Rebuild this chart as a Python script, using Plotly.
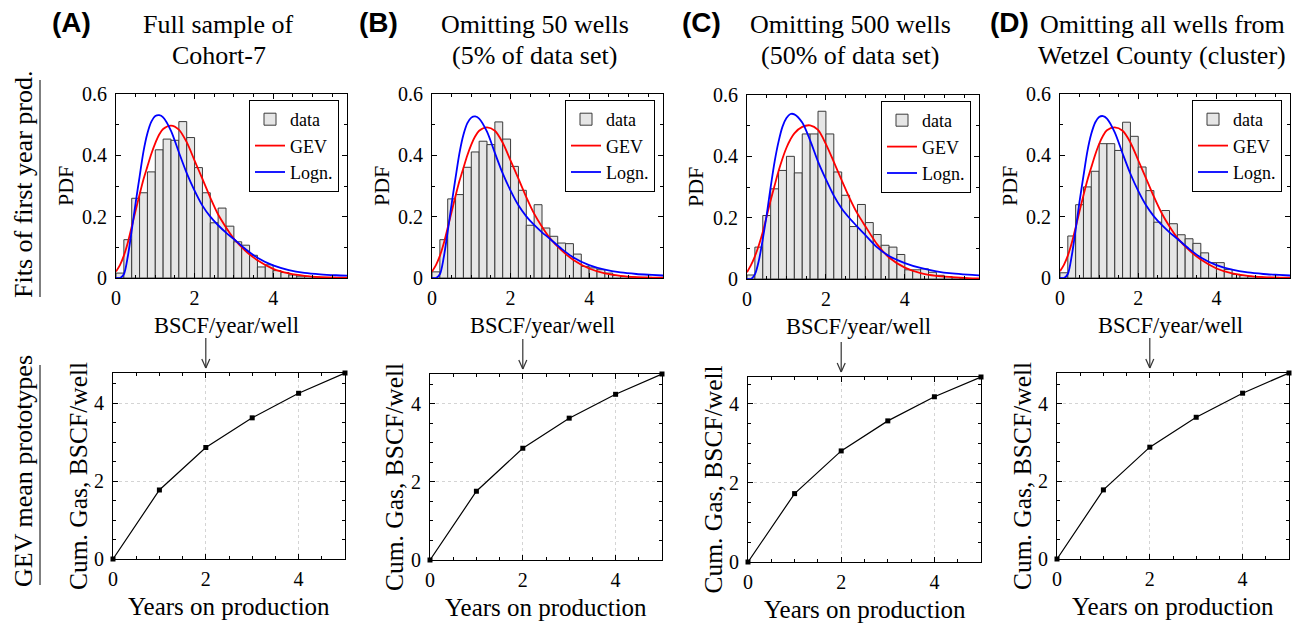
import plotly.graph_objects as go

W, H = 1306, 623
OFF = 8  # page body margin of the browser
FONT = "Liberation Serif"

# ---------------- data ----------------
hist_x = [0.1, 0.3, 0.5, 0.7, 0.9, 1.1, 1.3, 1.5, 1.7, 1.9, 2.1, 2.3, 2.5, 2.7, 2.9,
          3.1, 3.3, 3.5, 3.7, 3.9, 4.1, 4.3, 4.5, 4.7, 4.9, 5.1, 5.3, 5.5, 5.7]

hist_A = [0.016, 0.125, 0.26, 0.278, 0.346, 0.418, 0.453, 0.449, 0.51, 0.458, 0.36, 0.278,
          0.18, 0.228, 0.169, 0.118, 0.107, 0.074, 0.036, 0.043, 0.024, 0.018, 0.010, 0.006,
          0.005, 0.003, 0.002, 0.002, 0.001]
hist_B = [0.02, 0.125, 0.258, 0.272, 0.361, 0.411, 0.446, 0.435, 0.509, 0.453, 0.364, 0.286,
          0.172, 0.239, 0.163, 0.136, 0.114, 0.112, 0.078, 0.038, 0.033, 0.027, 0.016, 0.008,
          0.005, 0.003, 0.002, 0.002, 0.001]
hist_C = [0.013, 0.104, 0.207, 0.294, 0.354, 0.40, 0.346, 0.473, 0.473, 0.547, 0.473, 0.349,
          0.273, 0.171, 0.243, 0.184, 0.145, 0.11, 0.104, 0.08, 0.03, 0.03, 0.033, 0.022,
          0.012, 0.008, 0.004, 0.002, 0.001]
hist_D = [0.017, 0.137, 0.239, 0.297, 0.348, 0.438, 0.438, 0.416, 0.508, 0.462, 0.362, 0.285,
          0.182, 0.22, 0.177, 0.141, 0.128, 0.113, 0.082, 0.05, 0.05, 0.028, 0.012, 0.008,
          0.005, 0.003, 0.002, 0.002, 0.001]

curve_x = [0, 0.1, 0.2, 0.3, 0.4, 0.5, 0.6, 0.7, 0.8, 0.9, 1.0, 1.1, 1.2, 1.4, 1.6, 1.8,
           2.0, 2.2, 2.4, 2.6, 2.8, 3.0, 3.3, 3.6, 4.0, 4.4, 4.8, 5.2, 5.6, 5.9]

gev_A = [0.021, 0.042, 0.073, 0.115, 0.167, 0.22, 0.272, 0.322, 0.364, 0.405, 0.44, 0.468,
         0.486, 0.497, 0.484, 0.443, 0.383, 0.323, 0.262, 0.207, 0.165, 0.128, 0.088, 0.058,
         0.03, 0.015, 0.007, 0.003, 0.0015, 0.001]
logn_A = [0, 0.0, 0.012, 0.07, 0.155, 0.245, 0.33, 0.413, 0.472, 0.51, 0.528, 0.531, 0.524,
          0.48, 0.41, 0.342, 0.285, 0.236, 0.2, 0.172, 0.148, 0.127, 0.094, 0.066, 0.041,
          0.026, 0.017, 0.012, 0.009, 0.0075]

gev_B = [0.021, 0.042, 0.072, 0.113, 0.164, 0.216, 0.268, 0.317, 0.359, 0.4, 0.435, 0.462,
         0.48, 0.491, 0.48, 0.441, 0.383, 0.324, 0.264, 0.21, 0.167, 0.13, 0.09, 0.059,
         0.031, 0.015, 0.007, 0.003, 0.0015, 0.001]
logn_B = [0, 0.0, 0.012, 0.068, 0.152, 0.242, 0.327, 0.408, 0.467, 0.505, 0.523, 0.527, 0.52,
          0.477, 0.408, 0.341, 0.285, 0.237, 0.201, 0.173, 0.149, 0.128, 0.095, 0.067, 0.042,
          0.027, 0.018, 0.013, 0.01, 0.008]

gev_C = [0.022, 0.045, 0.074, 0.11, 0.153, 0.205, 0.257, 0.305, 0.352, 0.393, 0.428, 0.455,
         0.475, 0.496, 0.501, 0.486, 0.44, 0.382, 0.322, 0.264, 0.213, 0.172, 0.113, 0.07,
         0.037, 0.019, 0.01, 0.006, 0.003, 0.002]
logn_C = [0, 0.0, 0.015, 0.06, 0.13, 0.21, 0.3, 0.383, 0.448, 0.497, 0.525, 0.538, 0.537,
          0.51, 0.452, 0.383, 0.325, 0.272, 0.23, 0.198, 0.17, 0.143, 0.103, 0.075, 0.052,
          0.036, 0.025, 0.018, 0.014, 0.012]

gev_D = [0.022, 0.043, 0.073, 0.114, 0.165, 0.218, 0.27, 0.319, 0.361, 0.402, 0.437, 0.464,
         0.482, 0.491, 0.48, 0.442, 0.384, 0.325, 0.265, 0.211, 0.168, 0.131, 0.091, 0.06,
         0.031, 0.015, 0.007, 0.003, 0.0015, 0.001]
logn_D = [0, 0.0, 0.013, 0.072, 0.158, 0.25, 0.333, 0.413, 0.47, 0.507, 0.525, 0.528, 0.52,
          0.475, 0.406, 0.34, 0.284, 0.237, 0.201, 0.173, 0.149, 0.128, 0.095, 0.067, 0.042,
          0.027, 0.018, 0.013, 0.01, 0.008]

years = [0, 1, 2, 3, 4, 5]
cum_A = [0, 1.77, 2.86, 3.62, 4.25, 4.77]
cum_B = [0, 1.76, 2.86, 3.63, 4.24, 4.76]
cum_C = [0, 1.73, 2.81, 3.57, 4.18, 4.68]
cum_D = [0, 1.78, 2.88, 3.65, 4.27, 4.79]

letters = ["(A)", "(B)", "(C)", "(D)"]
titles = [("Full sample of", "Cohort-7"),
          ("Omitting 50 wells", "(5% of data set)"),
          ("Omitting 500 wells", "(50% of data set)"),
          ("Omitting all wells from", "Wetzel County (cluster)")]

hists = [hist_A, hist_B, hist_C, hist_D]
gevs = [gev_A, gev_B, gev_C, gev_D]
logns = [logn_A, logn_B, logn_C, logn_D]
cums = [cum_A, cum_B, cum_C, cum_D]

# ---------------- layout geometry (screen pixels) ----------------
top_boxes = [(116, 347, 94, 278), (432, 663, 94, 278), (747, 979, 95, 279), (1060, 1290, 94, 278)]
bot_boxes = [(113, 345, 373, 559), (430, 662, 374, 560), (748, 981, 377, 562), (1057, 1289, 373, 559)]


def px(x):
    return (x - OFF) / W


def py(y):
    return 1 - (y - OFF) / H


def f(size, family=FONT):
    return dict(family=family, size=size, color="black")


fig = go.Figure()
layout = dict(
    width=W, height=H, autosize=False,
    margin=dict(l=0, r=0, t=0, b=0, pad=0, autoexpand=False),
    paper_bgcolor="white", plot_bgcolor="white",
    font=f(21),
    showlegend=True,
)
annotations = []
shapes = []


def axis_common():
    return dict(
        showline=True, linecolor="black", linewidth=1, mirror="ticks",
        ticks="inside", ticklen=5, tickcolor="black", tickwidth=1,
        zeroline=False, tickfont=f(20), automargin=False,
    )


XR = 5.88

for i in range(4):
    n_top = i + 1
    n_bot = i + 5
    legname = "legend" if i == 0 else f"legend{i + 1}"
    xa_t, ya_t = f"x{n_top}" if n_top > 1 else "x", f"y{n_top}" if n_top > 1 else "y"
    xa_b, ya_b = f"x{n_bot}", f"y{n_bot}"

    fig.add_trace(go.Bar(
        x=hist_x, y=hists[i], width=0.2, name="data",
        marker=dict(color="#e6e6e6", line=dict(color="#3a3a3a", width=1)),
        xaxis=xa_t, yaxis=ya_t, legend=legname,
    ))
    fig.add_trace(go.Scatter(
        x=curve_x, y=gevs[i], mode="lines", name="GEV",
        line=dict(color="#ff0000", width=1.8, shape="spline", smoothing=0.8),
        xaxis=xa_t, yaxis=ya_t, legend=legname,
    ))
    fig.add_trace(go.Scatter(
        x=curve_x, y=logns[i], mode="lines", name="Logn.",
        line=dict(color="#0000ff", width=1.8, shape="spline", smoothing=0.8),
        xaxis=xa_t, yaxis=ya_t, legend=legname,
    ))
    fig.add_trace(go.Scatter(
        x=years, y=cums[i], mode="lines+markers", showlegend=False,
        line=dict(color="black", width=1.2),
        marker=dict(symbol="square", size=5, color="black"),
        cliponaxis=False,
        xaxis=xa_b, yaxis=ya_b,
    ))

    l, r, t, b = top_boxes[i]
    kx = "xaxis" if n_top == 1 else f"xaxis{n_top}"
    ky = "yaxis" if n_top == 1 else f"yaxis{n_top}"
    layout[kx] = dict(axis_common(), domain=[px(l), px(r)], range=[0, XR], anchor=ya_t,
                      tickvals=[0, 2, 4], showgrid=False, ticklabelstandoff=2,
                      minor=dict(dtick=0.5, ticks="inside", ticklen=3, tickcolor="black"))
    layout[ky] = dict(axis_common(), domain=[py(b), py(t)], range=[0, 0.6], anchor=xa_t,
                      tickvals=[0, 0.2, 0.4, 0.6], ticktext=["0", "0.2", "0.4", "0.6"],
                      showgrid=False, ticklabelstandoff=4,
                      minor=dict(dtick=0.1, ticks="inside", ticklen=3, tickcolor="black"))
    layout[legname] = dict(
        xanchor="right", yanchor="top", x=px(r - 8), y=py(t + 6),
        bgcolor="white", bordercolor="black", borderwidth=1,
        font=f(18),
        itemwidth=30, tracegroupgap=0, traceorder="normal",
    )
    # y label PDF
    annotations.append(dict(text="PDF", x=px(l - 51), y=py((t + b) / 2), xref="paper", yref="paper",
                            showarrow=False, textangle=-90, font=f(22),
                            xanchor="center", yanchor="middle"))
    annotations.append(dict(text="BSCF/year/well", x=px((l + r) / 2 - 5), y=py(b + 47),
                            xref="paper", yref="paper", showarrow=False, font=f(22.5),
                            xanchor="center", yanchor="middle"))
    # titles
    cx = (l + r) / 2 - 13
    annotations.append(dict(text=titles[i][0], x=px(cx), y=py(24), xref="paper", yref="paper",
                            showarrow=False, font=f(26), xanchor="center", yanchor="middle"))
    annotations.append(dict(text=titles[i][1], x=px(cx), y=py(56), xref="paper", yref="paper",
                            showarrow=False, font=f(26), xanchor="center", yanchor="middle"))

    # bottom axes
    l2, r2, t2, b2 = bot_boxes[i]
    layout[f"xaxis{n_bot}"] = dict(axis_common(), domain=[px(l2), px(r2)], range=[0, 5], anchor=ya_b,
                                   tickvals=[0, 2, 4], showgrid=True, gridcolor="#d4d4d4",
                                   griddash="dot", gridwidth=1, ticklabelstandoff=2,
                                   minor=dict(dtick=0.5, ticks="inside", ticklen=3, tickcolor="black"))
    layout[f"yaxis{n_bot}"] = dict(axis_common(), domain=[py(b2), py(t2)], range=[0, cums[i][-1]],
                                   anchor=xa_b, tickvals=[0, 2, 4], showgrid=True, gridcolor="#d4d4d4",
                                   griddash="dot", gridwidth=1, ticklabelstandoff=4,
                                   minor=dict(dtick=0.5, ticks="inside", ticklen=3, tickcolor="black"))
    annotations.append(dict(text="Cum. Gas, BSCF/well", x=px(l2 - 35), y=py((t2 + b2) / 2 + 10),
                            xref="paper", yref="paper", showarrow=False, textangle=-90,
                            font=f(25.5), xanchor="center", yanchor="middle"))
    annotations.append(dict(text="Years on production", x=px((l2 + r2) / 2), y=py(b2 + 47),
                            xref="paper", yref="paper", showarrow=False, font=f(25),
                            xanchor="center", yanchor="middle"))

    # arrow above x = 2 of bottom panel
    ax_px = l2 + (r2 - l2) * 2 / 5
    shapes.append(dict(type="line", xref="paper", yref="paper",
                       x0=px(ax_px), x1=px(ax_px), y0=py(t2 - 35), y1=py(t2 - 5),
                       line=dict(color="#333333", width=1.2)))
    shapes.append(dict(type="line", xref="paper", yref="paper",
                       x0=px(ax_px - 4), x1=px(ax_px), y0=py(t2 - 14), y1=py(t2 - 5),
                       line=dict(color="#333333", width=1.2)))
    shapes.append(dict(type="line", xref="paper", yref="paper",
                       x0=px(ax_px + 4), x1=px(ax_px), y0=py(t2 - 14), y1=py(t2 - 5),
                       line=dict(color="#333333", width=1.2)))

# panel letters
letter_x = [71, 378, 701, 1010]
for i in range(4):
    annotations.append(dict(text="<b>" + letters[i] + "</b>", x=px(letter_x[i]), y=py(22),
                            xref="paper", yref="paper", showarrow=False,
                            font=f(28, "Liberation Sans"),
                            xanchor="center", yanchor="middle"))

# row labels
annotations.append(dict(text="Fits of first year prod.", x=px(23), y=py(185), xref="paper", yref="paper",
                        showarrow=False, textangle=-90, font=f(26),
                        xanchor="center", yanchor="middle"))
annotations.append(dict(text="GEV mean prototypes", x=px(23), y=py(471), xref="paper", yref="paper",
                        showarrow=False, textangle=-90, font=f(26),
                        xanchor="center", yanchor="middle"))
shapes.append(dict(type="line", xref="paper", yref="paper", x0=px(40), x1=px(40), y0=py(80), y1=py(297),
                   line=dict(color="black", width=1)))
shapes.append(dict(type="line", xref="paper", yref="paper", x0=px(40), x1=px(40), y0=py(365), y1=py(585),
                   line=dict(color="black", width=1)))

layout["annotations"] = annotations
layout["shapes"] = shapes
fig.update_layout(**layout)
fig.write_html("out.html")
